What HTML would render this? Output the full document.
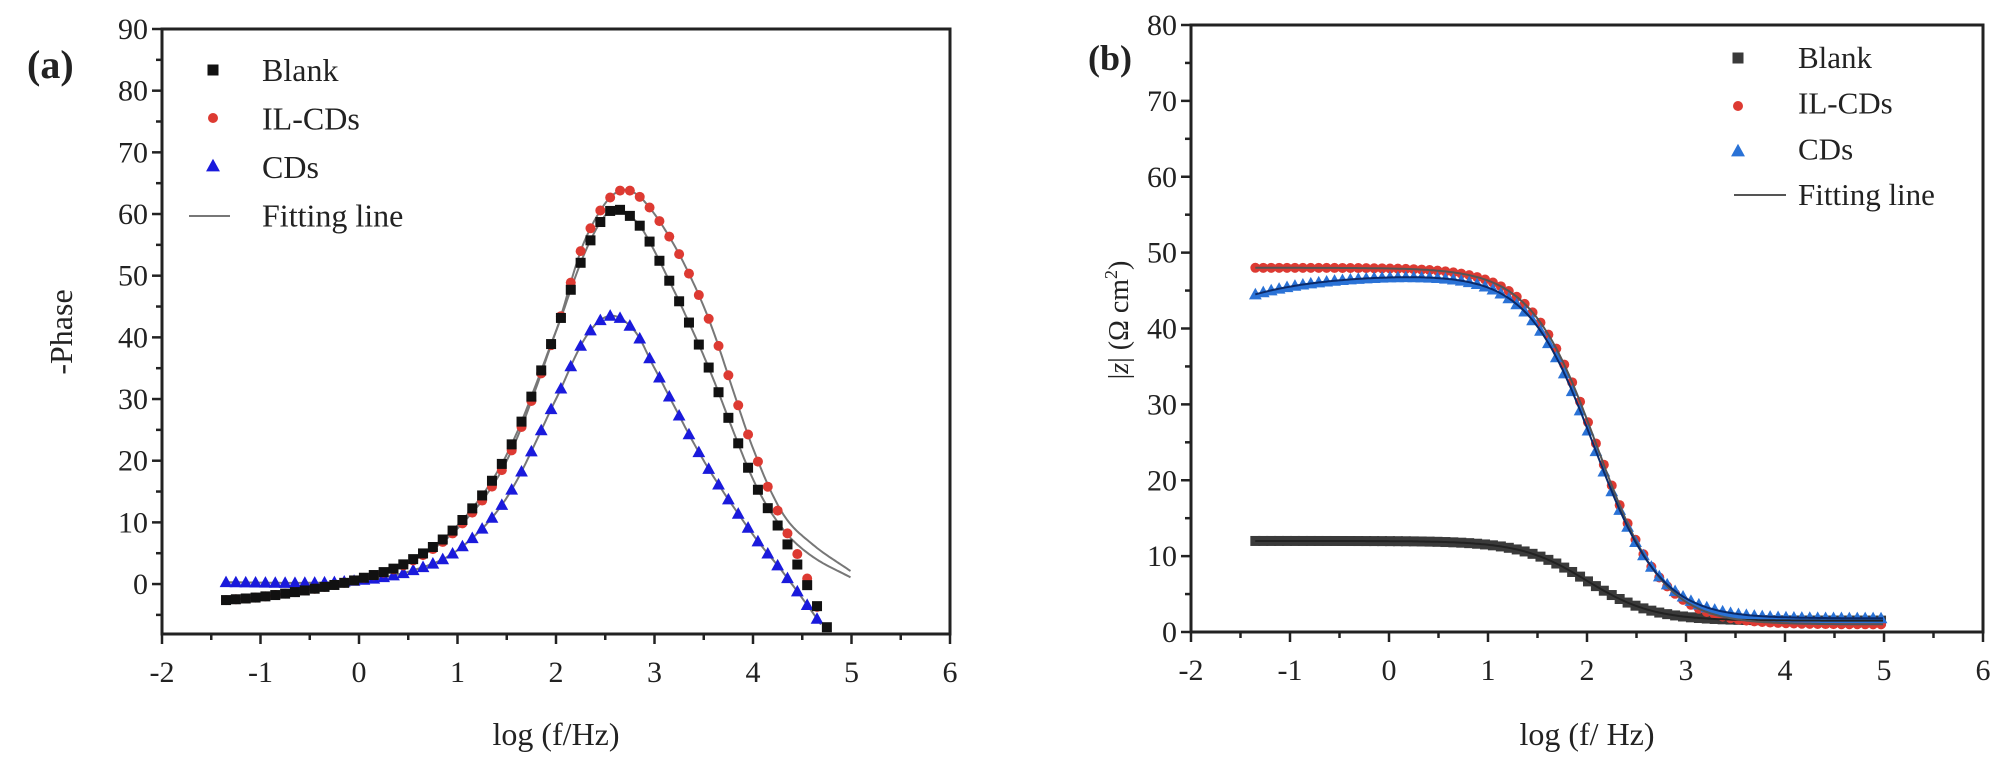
<!DOCTYPE html><html><head><meta charset="utf-8"><style>
body{margin:0;background:#fff;}
svg text{font-family:"Liberation Serif",serif;fill:#222;}
</style></head><body>
<svg id="s" width="2008" height="773" xmlns="http://www.w3.org/2000/svg"></svg>
<script>
const S=document.getElementById('s');let h='';
function interp(pts,x){for(let i=0;i<pts.length-1;i++){if(x<=pts[i+1][0]||i==pts.length-2){const p0=pts[Math.max(0,i-1)],p1=pts[i],p2=pts[i+1],p3=pts[Math.min(pts.length-1,i+2)];const t=(x-p1[0])/(p2[0]-p1[0]);const m1=(p2[1]-p0[1])/(p2[0]-p0[0])*(p2[0]-p1[0]),m2=(p3[1]-p1[1])/(p3[0]-p1[0])*(p2[0]-p1[0]);const t2=t*t,t3=t2*t;return (2*t3-3*t2+1)*p1[1]+(t3-2*t2+t)*m1+(-2*t3+3*t2)*p2[1]+(t3-t2)*m2;}}}
function axes(L,R,T,B,ymin,ymax,ystep,yminor){
 const X=v=>L+(v+2)/8*(R-L),Y=v=>B-(v-ymin)/(ymax-ymin)*(B-T);
 h+=`<rect x="${L}" y="${T}" width="${R-L}" height="${B-T}" fill="none" stroke="#222" stroke-width="3"/>`;
 for(let v=-2;v<=6;v+=0.5){const x=X(v),M=Number.isInteger(v);h+=`<line x1="${x}" y1="${B}" x2="${x}" y2="${B+(M?10:6)}" stroke="#222" stroke-width="2.5"/>`;if(M)h+=`<text x="${x}" y="${B+48}" font-size="30" text-anchor="middle">${v}</text>`;}
 for(let v=Math.ceil(ymin/yminor)*yminor;v<=ymax+0.01;v+=yminor){const y=Y(v),M=Math.abs(v/ystep-Math.round(v/ystep))<1e-6;h+=`<line x1="${L}" y1="${y}" x2="${L-(M?10:6)}" y2="${y}" stroke="#222" stroke-width="2.5"/>`;if(M)h+=`<text x="${L-14}" y="${y+10}" font-size="30" text-anchor="end">${Math.round(v)}</text>`;}
 return [X,Y];}
function mk(type,x,y,c,s){if(type=='s')return `<rect x="${x-s/2}" y="${y-s/2}" width="${s}" height="${s}" fill="${c}"/>`;if(type=='c')return `<circle cx="${x}" cy="${y}" r="${s/2}" fill="${c}"/>`;return `<polygon points="${x},${y-s*0.6} ${x-s*0.58},${y+s*0.45} ${x+s*0.58},${y+s*0.45}" fill="${c}"/>`;}
function line(X,Y,f,a,b,c,w){let d='';for(let x=a;x<=b+1e-9;x+=0.02)d+=(d?'L':'M')+X(x).toFixed(1)+','+Y(f(x)).toFixed(1);h+=`<path d="${d}" fill="none" stroke="${c}" stroke-width="${w}"/>`;}
// Panel a
let [X,Y]=axes(162,950,29,634,-8.1,90,10,5);
const blank=[[-1.35,-2.6],[-1,-2.1],[-0.5,-0.9],[0,0.8],[0.5,3.6],[1,9.5],[1.5,21],[2,41],[2.3,54],[2.55,60.5],[2.8,59],[3,54],[3.5,37],[4,17],[4.3,8],[4.5,1.5],[4.75,-7]];
const il=[[-1.35,-2.6],[-1,-2.1],[-0.5,-0.9],[0,0.8],[0.5,3.4],[1,9],[1.5,20],[2,41],[2.3,56],[2.65,63.8],[3,60],[3.5,45],[4,22],[4.3,10],[4.5,3],[4.7,-6]];
const cds=[[-1.35,0.3],[-0.5,0.2],[0,0.6],[0.5,2],[1,5.5],[1.5,14],[2,30],[2.3,40],[2.55,43.5],[2.8,41],[3,35],[3.5,20],[4,8],[4.3,2],[4.6,-4.5],[4.7,-6.8]];
const fb=blank.slice(0,14).concat([[4.3,9],[4.6,4.5],[5,1.0]]);
const fi=il.slice(0,13).concat([[4.3,11.5],[4.6,6.5],[5,2.0]]);
line(X,Y,x=>interp(fb,x),-1.35,5,'#777',2);line(X,Y,x=>interp(fi,x),-1.35,5,'#777',2);line(X,Y,x=>interp(cds,x),-1.35,4.7,'#777',2);
for(let x=-1.35;x<=4.71;x+=0.1)h+=mk('t',X(x),Y(interp(cds,x)),'#1a1adc',11);
for(let x=-1.35;x<=4.71;x+=0.1)h+=mk('c',X(x),Y(interp(il,x)),'#dd3a32',10);
for(let x=-1.35;x<=4.76;x+=0.1)h+=mk('s',X(x),Y(interp(blank,x)),'#111',10);
h+=mk('s',213,70,'#111',11)+mk('c',213,118,'#dd3a32',10)+mk('t',213,166,'#1a1adc',12)+`<line x1="189" y1="216" x2="230" y2="216" stroke="#777" stroke-width="2"/>`;
['Blank','IL-CDs','CDs','Fitting line'].forEach((t,i)=>h+=`<text x="262" y="${81+i*48.5}" font-size="32">${t}</text>`);
h+=`<text x="27" y="78" font-size="40" font-weight="bold">(a)</text>`;
h+=`<text transform="translate(72,332) rotate(-90)" font-size="32" text-anchor="middle">-Phase</text>`;
h+=`<text x="556" y="745" font-size="32" text-anchor="middle">log (f/Hz)</text>`;
// Panel b
[X,Y]=axes(1191,1983,25,632,0,80,10,5);
const zb=x=>1.5+10.5/(1+Math.pow(10,1.3*(x-2.0)));
const zi=x=>1+47/(1+Math.pow(10,1.3*(x-2.1)));
const zc=x=>1.8+45.5/(1+Math.pow(10,1.3*(x-2.07)))-2.8*Math.exp(-(x+1.35)*1.3);
for(let x=-1.35;x<=5.01;x+=0.08)h+=mk('s',X(x),Y(zb(x)),'#3a3a3a',10);
for(let x=-1.35;x<=5.01;x+=0.08)h+=mk('c',X(x),Y(zi(x)),'#dd3a32',10);
for(let x=-1.35;x<=5.01;x+=0.08)h+=mk('t',X(x),Y(zc(x)),'#2a72d6',11);
line(X,Y,zb,-1.35,5,'#222',2);line(X,Y,zi,-1.35,5,'#555',2);line(X,Y,zc,-1.35,5,'#0a2a6a',2);
h+=mk('s',1738,58,'#3a3a3a',11)+mk('c',1738,106,'#dd3a32',10)+mk('t',1738,151,'#2a72d6',12)+`<line x1="1734" y1="195" x2="1786" y2="195" stroke="#555" stroke-width="2"/>`;
['Blank','IL-CDs','CDs','Fitting line'].forEach((t,i)=>h+=`<text x="1798" y="${68+i*45.7}" font-size="31">${t}</text>`);
h+=`<text x="1088" y="70" font-size="36" font-weight="bold">(b)</text>`;
h+=`<text transform="translate(1128,320) rotate(-90)" font-size="28" text-anchor="middle">|<tspan font-style="italic">z</tspan>|  (Ω cm<tspan font-size="18" dy="-11">2</tspan><tspan dy="11">)</tspan></text>`;
h+=`<text x="1587" y="745" font-size="32" text-anchor="middle">log (f/  Hz)</text>`;
S.innerHTML=h;
</script></body></html>
